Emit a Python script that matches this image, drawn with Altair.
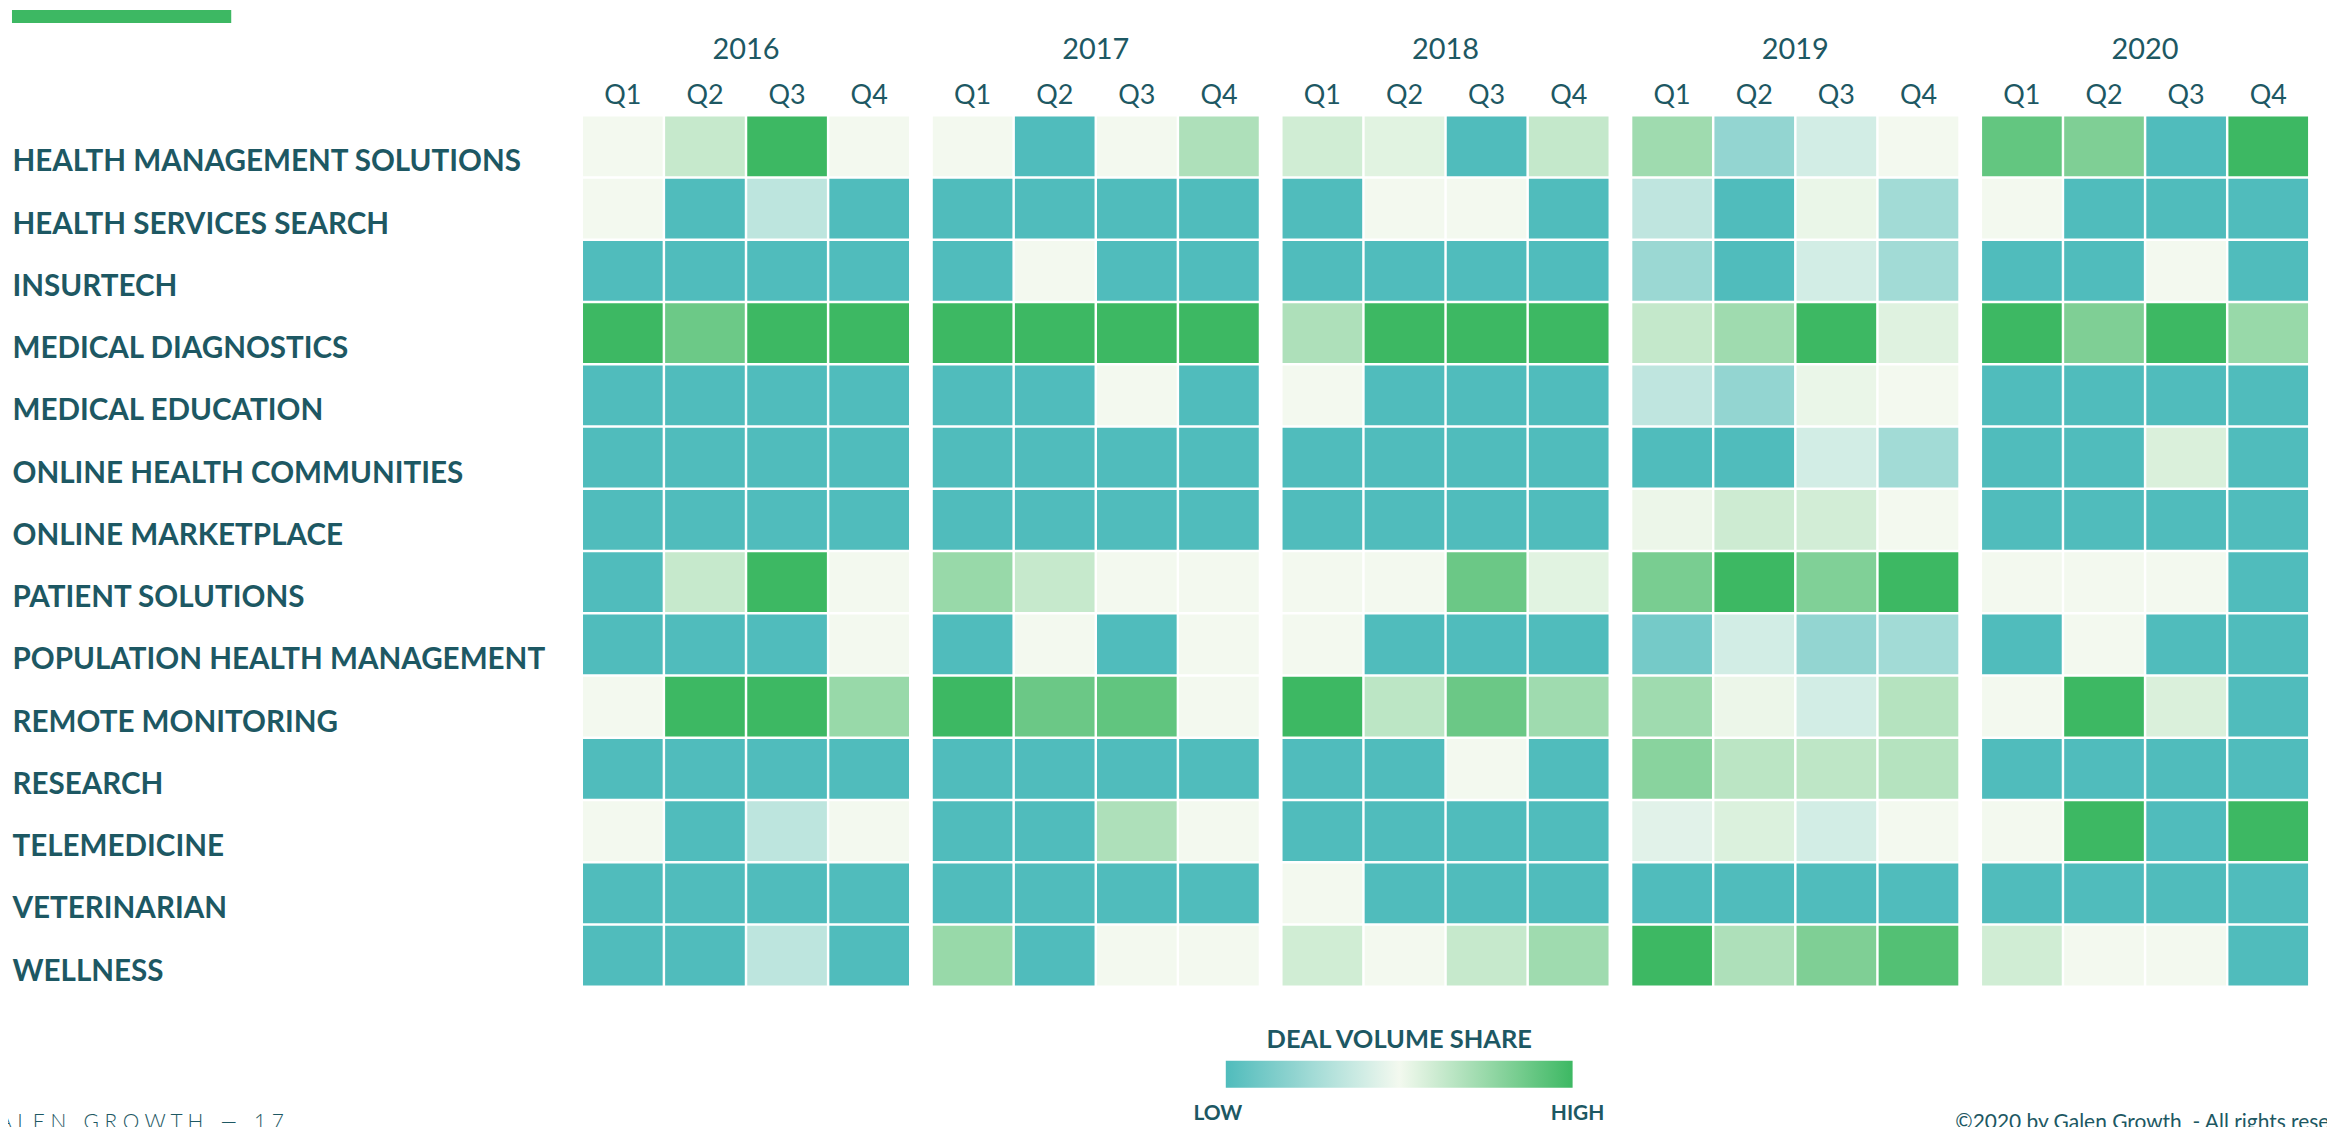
import altair as alt
import pandas as pd

# ---------------- data ----------------
CATEGORIES = [
    "HEALTH MANAGEMENT SOLUTIONS",
    "HEALTH SERVICES SEARCH",
    "INSURTECH",
    "MEDICAL DIAGNOSTICS",
    "MEDICAL EDUCATION",
    "ONLINE HEALTH COMMUNITIES",
    "ONLINE MARKETPLACE",
    "PATIENT SOLUTIONS",
    "POPULATION HEALTH MANAGEMENT",
    "REMOTE MONITORING",
    "RESEARCH",
    "TELEMEDICINE",
    "VETERINARIAN",
    "WELLNESS",
]
YEARS = ["2016", "2017", "2018", "2019", "2020"]
QUARTERS = ["Q1", "Q2", "Q3", "Q4"]

# relative deal volume share: -1 = low, 0 = mid, 1 = high (rows follow CATEGORIES)
SHARE_2016 = [
    [0, 0.25, 1, 0],
    [0, -1, -0.33, -1],
    [-1, -1, -1, -1],
    [1, 0.74, 1, 1],
    [-1, -1, -1, -1],
    [-1, -1, -1, -1],
    [-1, -1, -1, -1],
    [-1, 0.25, 1, 0],
    [-1, -1, -1, 0],
    [0, 1, 1, 0.5],
    [-1, -1, -1, -1],
    [0, -1, -0.33, 0],
    [-1, -1, -1, -1],
    [-1, -1, -0.33, -1],
]
SHARE_2017 = [
    [0, -1, 0, 0.38],
    [-1, -1, -1, -1],
    [-1, 0, -1, -1],
    [1, 1, 1, 1],
    [-1, -1, 0, -1],
    [-1, -1, -1, -1],
    [-1, -1, -1, -1],
    [0.5, 0.25, 0, 0],
    [-1, 0, -1, 0],
    [1, 0.75, 0.8, 0],
    [-1, -1, -1, -1],
    [-1, -1, 0.38, 0],
    [-1, -1, -1, -1],
    [0.5, -1, 0, 0],
]
SHARE_2018 = [
    [0.19, 0.1, -1, 0.26],
    [-1, 0, 0, -1],
    [-1, -1, -1, -1],
    [0.38, 1, 1, 1],
    [0, -1, -1, -1],
    [-1, -1, -1, -1],
    [-1, -1, -1, -1],
    [0, 0, 0.75, 0.1],
    [0, -1, -1, -1],
    [1, 0.3, 0.75, 0.46],
    [-1, -1, 0, -1],
    [-1, -1, -1, -1],
    [0, -1, -1, -1],
    [0.19, 0, 0.25, 0.46],
]
SHARE_2019 = [
    [0.46, -0.59, -0.2, 0],
    [-0.32, -1, 0.05, -0.5],
    [-0.54, -1, -0.2, -0.5],
    [0.26, 0.46, 1, 0.11],
    [-0.32, -0.59, 0.05, 0],
    [-1, -1, -0.2, -0.5],
    [0.04, 0.21, 0.18, 0],
    [0.67, 1, 0.63, 1],
    [-0.77, -0.2, -0.59, -0.5],
    [0.46, 0.04, -0.2, 0.34],
    [0.58, 0.31, 0.29, 0.34],
    [-0.11, 0.13, -0.2, 0],
    [-1, -1, -1, -1],
    [1, 0.38, 0.64, 0.88],
]
SHARE_2020 = [
    [0.79, 0.64, -1, 1],
    [0, -1, -1, -1],
    [-1, -1, 0, -1],
    [1, 0.64, 1, 0.5],
    [-1, -1, -1, -1],
    [-1, -1, 0.14, -1],
    [-1, -1, -1, -1],
    [0, 0, 0, -1],
    [-1, 0, -1, -1],
    [0, 1, 0.14, -1],
    [-1, -1, -1, -1],
    [0, 1, -1, 1],
    [-1, -1, -1, -1],
    [0.19, 0, 0, -1],
]
SHARES = [SHARE_2016, SHARE_2017, SHARE_2018, SHARE_2019, SHARE_2020]

LEGEND_LOW = "LOW"
LEGEND_HIGH = "HIGH"
FOOTER_LEFT = "G A L E N\u00a0\u00a0\u00a0G R O W T H\u00a0\u00a0\u00a0—\u00a0\u00a0\u00a01 7"
FOOTER_RIGHT = "©2020 by Galen Growth\u00a0\u00a0- All rights reserved"

rows = []
for yr, grid in zip(YEARS, SHARES):
    for cat, vals in zip(CATEGORIES, grid):
        for q, v in zip(QUARTERS, vals):
            rows.append({"category": cat, "year": yr, "quarter": q, "share": v})
df = pd.DataFrame(rows)
year_df = pd.DataFrame({"year": YEARS})
q_df = pd.DataFrame([{"year": y, "quarter": q} for y in YEARS for q in QUARTERS])
one = pd.DataFrame({"k": [0]})

# ---------------- style ----------------
TEXT = "#1d5863"
TEAL = "#50bcbc"
MID = "#f3f9ef"
GREEN = "#3db863"
FONT = "Lato"

x_scale = alt.Scale(domain=YEARS, paddingInner=0.068, paddingOuter=0)
xo_scale = alt.Scale(domain=QUARTERS, paddingInner=0.03, paddingOuter=0)

heat = alt.Chart(df).mark_rect().encode(
    x=alt.X("year:N", scale=x_scale, axis=None),
    xOffset=alt.XOffset("quarter:N", scale=xo_scale),
    y=alt.Y(
        "category:N",
        sort=CATEGORIES,
        scale=alt.Scale(domain=CATEGORIES, paddingInner=0.04, paddingOuter=0),
        axis=alt.Axis(
            title=None, ticks=False, domain=False, labelAlign="left",
            labelPadding=573, labelLimit=700, labelFont=FONT, labelFontSize=29.7,
            labelFontWeight="bold", labelColor=TEXT, labelOffset=16,
        ),
    ),
    color=alt.Color(
        "share:Q",
        scale=alt.Scale(domain=[-1, 0, 1], range=[TEAL, MID, GREEN], interpolate="rgb"),
        legend=alt.Legend(
            title="DEAL VOLUME SHARE", orient="none", legendX=645, legendY=915,
            direction="horizontal", gradientLength=348, gradientThickness=27,
            values=[-1, 1], labelExpr="''",
            titleFont=FONT, titleFontSize=25.5, titleFontWeight="bold", titleColor=TEXT,
            titleAnchor="middle", titleAlign="center", titlePadding=7, titleLimit=800,
            labelFontSize=1, labelOffset=0, gradientStrokeWidth=0, padding=0,
        ),
    ),
)

end_style = dict(font=FONT, fontSize=21, fontWeight="bold", color=TEXT,
                 baseline="alphabetic", align="center")
low_txt = alt.Chart(one).mark_text(text=LEGEND_LOW, **end_style).encode(
    x=alt.value(637), y=alt.value(1007)
)
high_txt = alt.Chart(one).mark_text(text=LEGEND_HIGH, **end_style).encode(
    x=alt.value(998), y=alt.value(1007)
)

years_txt = alt.Chart(year_df).mark_text(
    font=FONT, fontSize=29, color=TEXT, baseline="alphabetic"
).encode(
    x=alt.X("year:N", scale=x_scale, axis=None),
    y=alt.value(-58),
    text="year:N",
)

q_txt = alt.Chart(q_df).mark_text(
    font=FONT, fontSize=27, color=TEXT, baseline="alphabetic"
).encode(
    x=alt.X("year:N", scale=x_scale, axis=None),
    xOffset=alt.XOffset("quarter:N", scale=xo_scale),
    y=alt.value(-13),
    text="quarter:N",
)

bar = alt.Chart(one).mark_rect(color=GREEN).encode(
    x=alt.value(-573), x2=alt.value(-353), y=alt.value(-107), y2=alt.value(-94)
)

foot_left = alt.Chart(one).mark_text(
    text=FOOTER_LEFT, font=FONT, fontSize=21,
    fontWeight=300, color=TEXT, align="left", baseline="alphabetic"
).encode(x=alt.value(-607), y=alt.value(1016))

foot_right = alt.Chart(one).mark_text(
    text=FOOTER_RIGHT, font=FONT, fontSize=21,
    color=TEXT, align="left", baseline="alphabetic"
).encode(x=alt.value(1377), y=alt.value(1016))

chart = alt.layer(
    heat, years_txt, q_txt, low_txt, high_txt, bar, foot_left, foot_right
).properties(
    width=1731,
    height=872,
    autosize=alt.AutoSizeParams(type="none"),
    padding={"left": 577, "top": 107, "right": 19, "bottom": 140},
).configure_view(strokeWidth=0)

chart.save("out.html", embed_options={"renderer": "svg", "actions": False})
